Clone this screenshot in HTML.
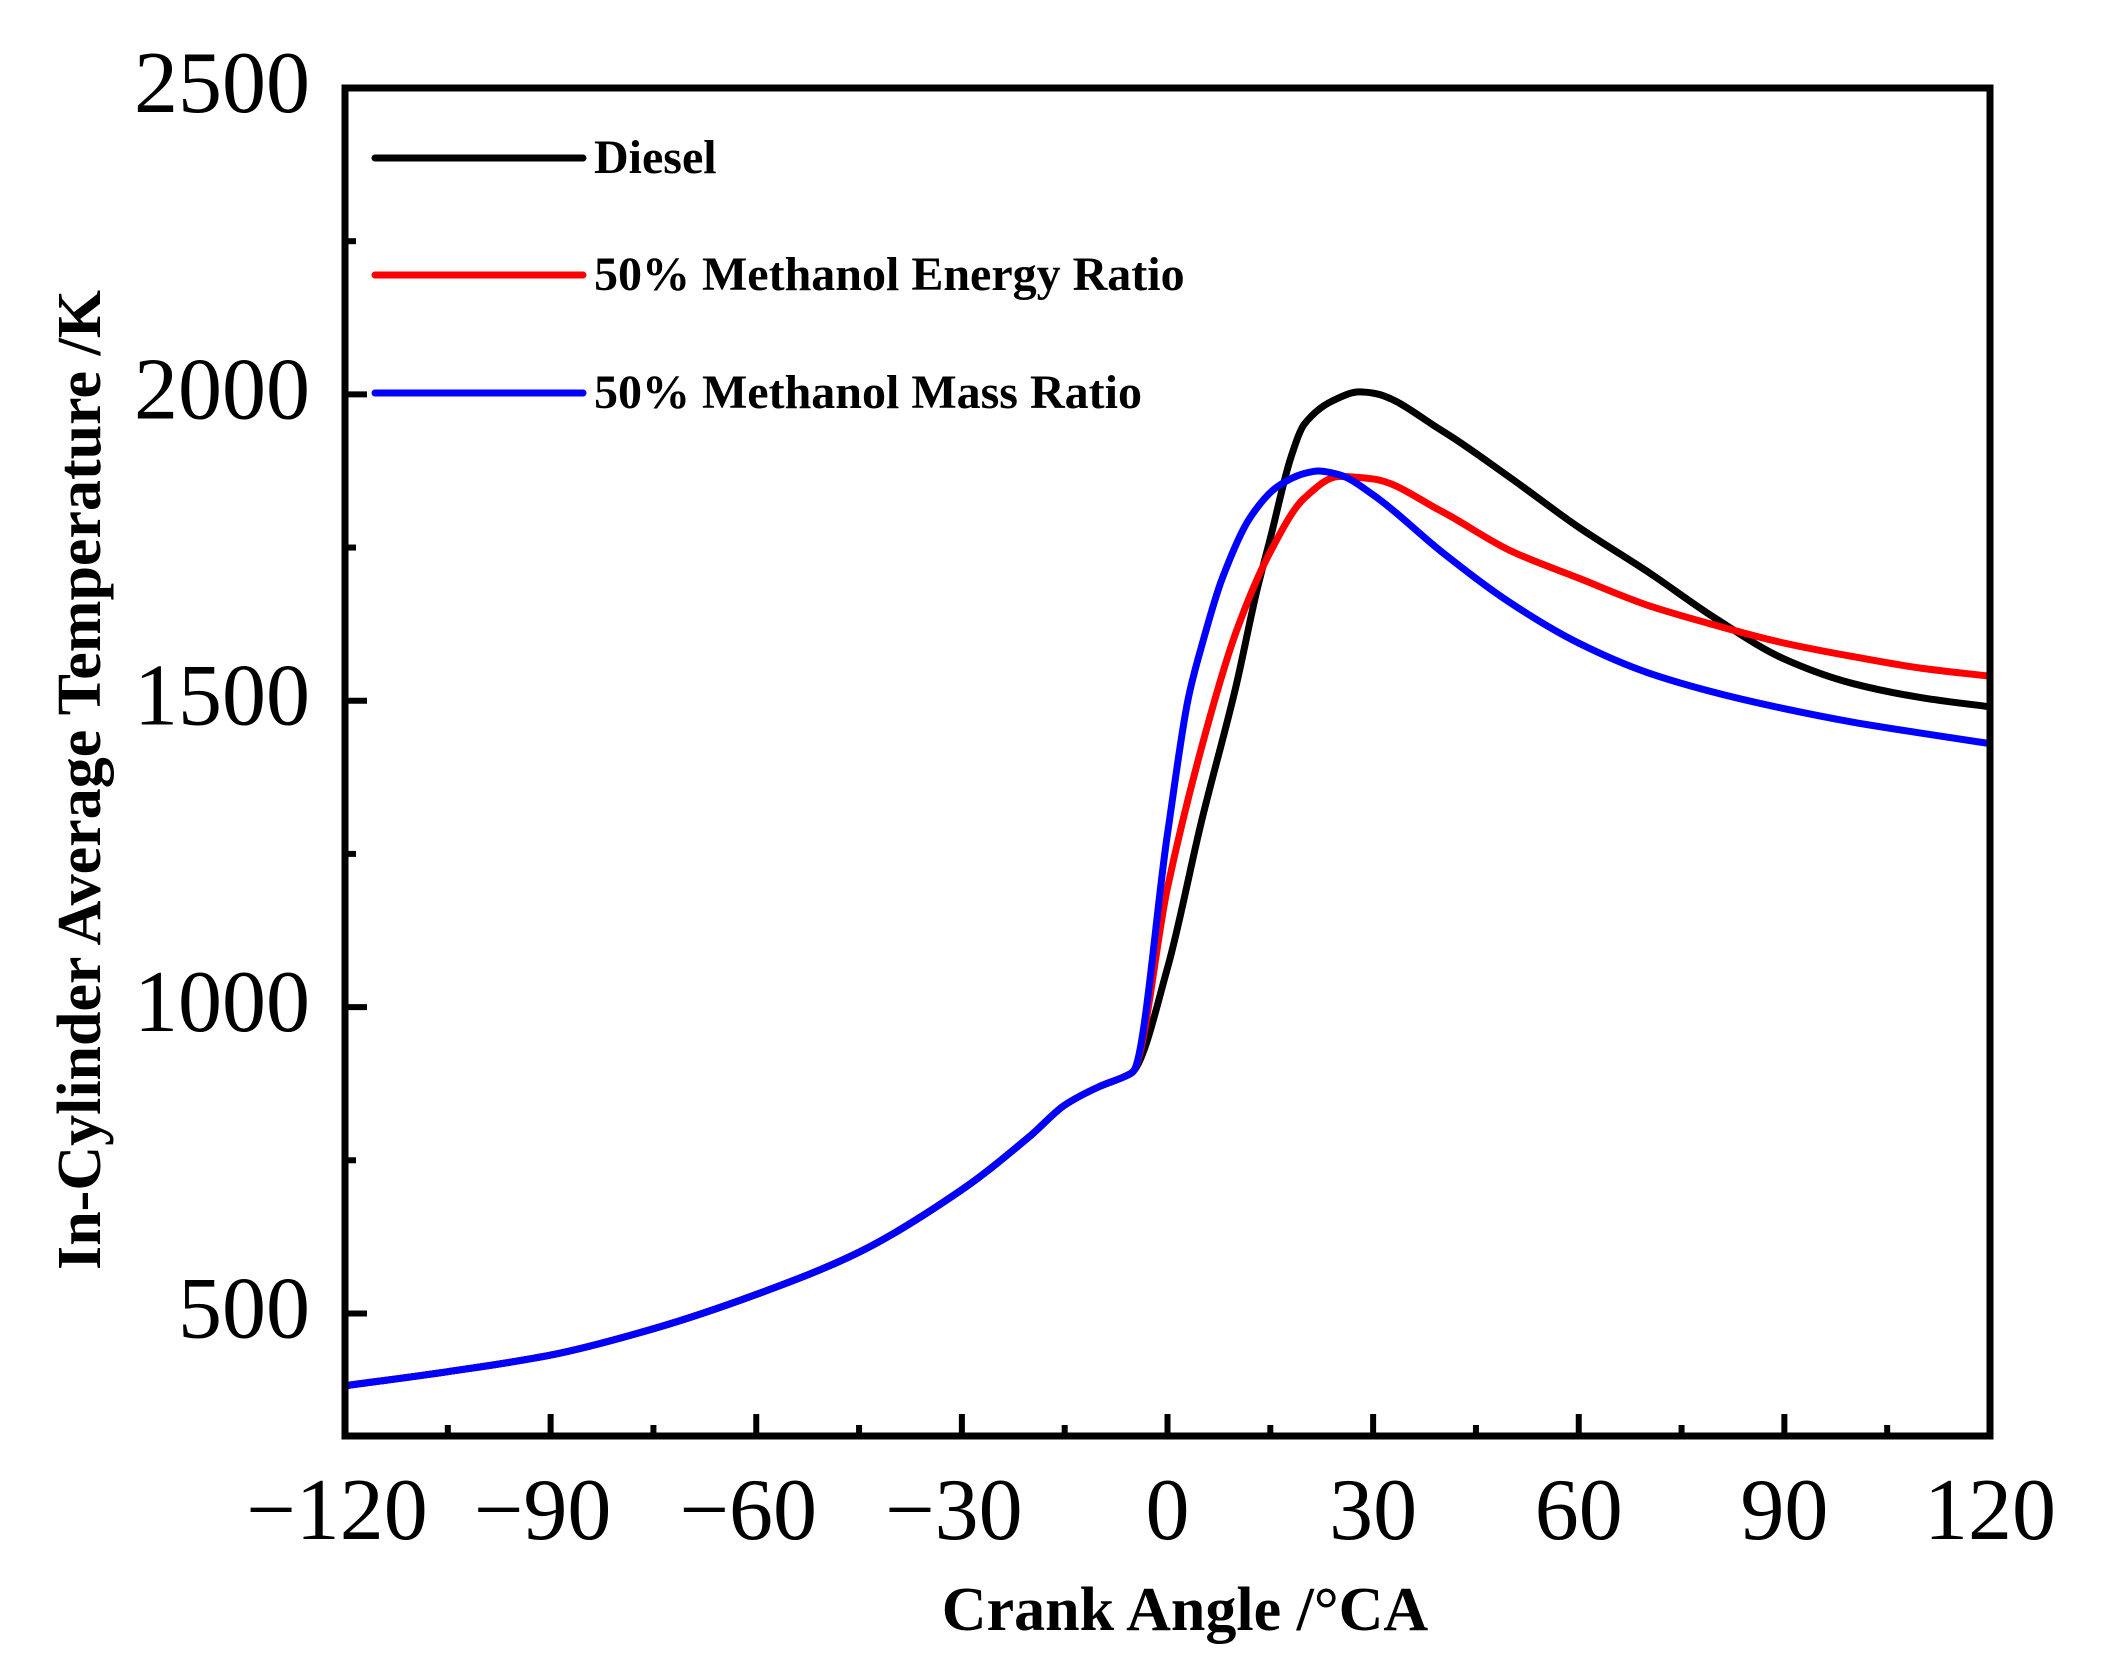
<!DOCTYPE html>
<html><head><meta charset="utf-8"><style>
html,body{margin:0;padding:0;background:#fff;}
svg{display:block;font-family:"Liberation Serif",serif;}
</style></head><body>
<svg id="chart" width="2106" height="1675" viewBox="0 0 2106 1675">
<g id="plot"></g>
</svg>
<script>
const xTicks=[-120,-90,-60,-30,0,30,60,90,120];
const yTicks=[500,1000,1500,2000,2500];
const sharedX=[-120,-105,-90,-75,-60,-45,-30,-20,-15,-10,-6,-5];
const sharedY=[382,405,432,475,531,600,702,790,840,870,888,895];
const dieselX=[0,5,10,13,15,18,20,24,28,30,40,50,60,70,80,90,100,110,120];
const dieselY=[1064,1305,1524,1678,1765,1897,1952,1989,2004,2002,1941,1864,1783,1711,1634,1568,1528,1505,1490];
const energyX=[0,5,10,15,20,25,30,40,50,60,70,80,90,100,110,120];
const energyY=[1195,1425,1612,1743,1831,1866,1862,1809,1745,1700,1656,1623,1594,1572,1553,1540];
const massX=[0,3,5,8,12,16,20,22,25,30,40,50,60,70,80,90,100,110,120];
const massY=[1283,1502,1590,1700,1798,1849,1871,1875,1869,1836,1743,1660,1594,1546,1513,1487,1465,1447,1430];

const L=345,R=1990,T=88,B=1436,xmin=-120,xmax=120,ymin=300,ymax=2500;
const sx=v=>L+(v-xmin)/(xmax-xmin)*(R-L);
const sy=v=>B-(v-ymin)/(ymax-ymin)*(B-T);
const NS="http://www.w3.org/2000/svg";
const g=document.getElementById('plot');
function mk(tag,attrs,parent){const e=document.createElementNS(NS,tag);for(const k in attrs)e.setAttribute(k,attrs[k]);(parent||g).appendChild(e);return e;}
function pathFrom(xs,ys){
  const n=xs.length,px=xs.map(sx),py=ys.map(sy);
  const d=[],m=[];
  for(let i=0;i<n-1;i++)d.push((py[i+1]-py[i])/(px[i+1]-px[i]));
  m[0]=d[0];m[n-1]=d[n-2];
  for(let i=1;i<n-1;i++){m[i]=(d[i-1]*d[i]<=0)?0:2/(1/d[i-1]+1/d[i]);}
  let s='M'+px[0]+','+py[0];
  for(let i=0;i<n-1;i++){
    const h=(px[i+1]-px[i])/3;
    s+=' C'+(px[i]+h)+','+(py[i]+m[i]*h)+' '+(px[i+1]-h)+','+(py[i+1]-m[i+1]*h)+' '+px[i+1]+','+py[i+1];
  }
  return s;
}
const series=[
 {name:'diesel-line',xs:sharedX.concat(dieselX),ys:sharedY.concat(dieselY),c:'#000'},
 {name:'energy-ratio-line',xs:sharedX.concat(energyX),ys:sharedY.concat(energyY),c:'#ff0000'},
 {name:'mass-ratio-line',xs:sharedX.concat(massX),ys:sharedY.concat(massY),c:'#0000ff'}
];
series.forEach(s=>{
  const e=mk('path',{d:pathFrom(s.xs,s.ys),fill:'none',stroke:s.c,'stroke-width':7,'stroke-linejoin':'round'});
  
  
});
const fr=mk('rect',{x:L,y:T,width:R-L,height:B-T,fill:'none',stroke:'#000','stroke-width':7});


for(let v=xmin;v<=xmax;v+=15){
  const major=(v%30===0);
  const t=mk('line',{x1:sx(v),x2:sx(v),y1:B,y2:B-(major?22:11),stroke:'#000','stroke-width':6});
  
  
}
xTicks.forEach(v=>{
  const t=mk('text',{x:sx(v)+(v<0?-8:0),y:1539,'text-anchor':'middle','font-size':88});
  t.textContent=(v<0?'\u2212':'')+Math.abs(v);
  
  
});
for(let v=500;v<=2500;v+=250){
  const major=(v%500===0);
  const t=mk('line',{x1:L,x2:L+(major?22:11),y1:sy(v),y2:sy(v),stroke:'#000','stroke-width':6});
  
  
}
yTicks.forEach(v=>{
  const t=mk('text',{x:310,y:sy(v)+24,'text-anchor':'end','font-size':88});
  t.textContent=v;
  
  
});
const legNames=['Diesel','50% Methanol Energy Ratio','50% Methanol Mass Ratio'];
const legY=[158,275,393];
const legC=['#000','#ff0000','#0000ff'];
legNames.forEach((n,i)=>{
  const ln=mk('line',{x1:375,x2:583,y1:legY[i],y2:legY[i],stroke:legC[i],'stroke-width':7,'stroke-linecap':'round'});
  
  
  const t=mk('text',{x:594,y:legY[i]+15,'font-size':48,'font-weight':'bold'});
  t.textContent=n;
  
  
});
const xt=mk('text',{x:1185,y:1630,'text-anchor':'middle','font-size':62,'font-weight':'bold'});
xt.textContent='Crank Angle /\u00B0CA';


const yt=mk('text',{x:0,y:0,'text-anchor':'middle','font-size':62,'font-weight':'bold',transform:'translate(100,780) rotate(-90)'});
yt.textContent='In-Cylinder Average Temperature /K';


</script>
</body></html>
